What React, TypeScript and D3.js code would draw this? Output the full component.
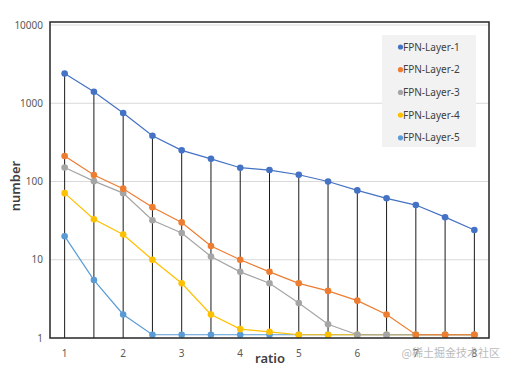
import React, { useEffect, useRef } from 'react';
import * as d3 from 'd3';

const ratios = [1, 1.5, 2, 2.5, 3, 3.5, 4, 4.5, 5, 5.5, 6, 6.5, 7, 7.5, 8];
const xTickLabels = [1, 2, 3, 4, 5, 6, 7, 8];
const yTickValues = [1, 10, 100, 1000, 10000];
const seriesNames = ['FPN-Layer-1', 'FPN-Layer-2', 'FPN-Layer-3', 'FPN-Layer-4', 'FPN-Layer-5'];
const seriesColors = ['#4472C4', '#ED7D31', '#A5A5A5', '#FFC000', '#5B9BD5'];

const layer1 = [2400, 1400, 750, 385, 250, 195, 150, 140, 122, 100, 77, 61, 50, 35, 24];
const layer2 = [212, 121, 81, 47, 30, 15, 10, 7, 5, 4, 3, 2, 1.1, 1.1, 1.1];
const layer3 = [151, 101, 71, 32, 22, 11, 7, 5, 2.8, 1.5, 1.1, 1.1, 1.1, 1.1, 1.1];
const layer4 = [71, 33, 21, 10, 5, 2, 1.3, 1.2, 1.1, 1.1, 1.1, 1.1, 1.1, 1.1, 1.1];
const layer5 = [20, 5.5, 2, 1.1, 1.1, 1.1, 1.1, 1.1, 1.1, 1.1, 1.1, 1.1, 1.1, 1.1, 1.1];
const allSeries = [layer1, layer2, layer3, layer4, layer5];

const App: React.FC = () => {
  const chartRef = useRef<SVGSVGElement>(null);

  useEffect(() => {
    const svg = d3.select(chartRef.current);
    svg.selectAll('*').remove();
    const width = 508;
    const height = 370;
    const plot = { left: 50, right: 489, top: 22, bottom: 338 };
    const font = '"Noto Sans", sans-serif';

    svg.attr('width', width).attr('height', height);
    svg.append('rect').attr('width', width).attr('height', height).attr('fill', '#fff');

    const x = d3
      .scalePoint<number>()
      .domain(ratios)
      .range([plot.left, plot.right])
      .padding(0.5);
    const y = d3.scaleLog().domain([1, 10000]).range([plot.bottom, 25]);

    // gridlines
    svg
      .append('g')
      .selectAll('line')
      .data(yTickValues.slice(1))
      .join('line')
      .attr('x1', plot.left)
      .attr('x2', plot.right)
      .attr('y1', (d) => y(d))
      .attr('y2', (d) => y(d))
      .attr('stroke', '#d9d9d9')
      .attr('stroke-width', 1);

    // legend background
    const legend = svg.append('g').attr('transform', 'translate(382,35)');
    legend.append('rect').attr('width', 94).attr('height', 112).attr('fill', '#f2f2f2');

    // drop lines from top series
    svg
      .append('g')
      .selectAll('line')
      .data(ratios)
      .join('line')
      .attr('x1', (d) => x(d)!)
      .attr('x2', (d) => x(d)!)
      .attr('y1', (d, i) => y(layer1[i]))
      .attr('y2', plot.bottom)
      .attr('stroke', '#1a1a1a')
      .attr('stroke-width', 1);

    const line = d3
      .line<number>()
      .x((d, i) => x(ratios[i])!)
      .y((d) => y(d));

    allSeries.slice().reverse().forEach((s, ri) => {
      const idx = allSeries.length - 1 - ri;
      const g = svg.append('g');
      g.append('path')
        .attr('d', line(s))
        .attr('fill', 'none')
        .attr('stroke', seriesColors[idx])
        .attr('stroke-width', 1.2);
      g.selectAll('circle')
        .data(s)
        .join('circle')
        .attr('cx', (d, i) => x(ratios[i])!)
        .attr('cy', (d) => y(d))
        .attr('r', 3.3)
        .attr('fill', seriesColors[idx]);
    });

    // frame
    svg
      .append('rect')
      .attr('x', plot.left)
      .attr('y', plot.top)
      .attr('width', plot.right - plot.left)
      .attr('height', plot.bottom - plot.top)
      .attr('fill', 'none')
      .attr('stroke', '#262626')
      .attr('stroke-width', 1.5);

    // y tick labels
    svg
      .append('g')
      .selectAll('text')
      .data(yTickValues)
      .join('text')
      .attr('x', 43)
      .attr('y', (d) => y(d) + 3.5)
      .attr('text-anchor', 'end')
      .attr('font-family', font)
      .attr('font-size', 10)
      .attr('fill', '#595959')
      .text((d) => d);

    // x tick labels
    svg
      .append('g')
      .selectAll('text')
      .data(xTickLabels)
      .join('text')
      .attr('x', (d) => x(d)!)
      .attr('y', 357)
      .attr('text-anchor', 'middle')
      .attr('font-family', font)
      .attr('font-size', 10)
      .attr('fill', '#595959')
      .text((d) => d);

    // axis titles
    svg
      .append('text')
      .attr('x', 270)
      .attr('y', 363)
      .attr('text-anchor', 'middle')
      .attr('font-family', font)
      .attr('font-size', 13)
      .attr('font-weight', 600)
      .attr('fill', '#404040')
      .text('ratio');
    svg
      .append('text')
      .attr('transform', 'translate(20,186) rotate(-90)')
      .attr('text-anchor', 'middle')
      .attr('font-family', font)
      .attr('font-size', 13)
      .attr('font-weight', 600)
      .attr('fill', '#404040')
      .text('number');

    // legend items
    const item = legend
      .selectAll('g')
      .data(seriesNames)
      .join('g')
      .attr('transform', (d, i) => `translate(0,${12 + i * 22.7})`);
    item
      .append('circle')
      .attr('cx', 18.5)
      .attr('cy', 0)
      .attr('r', 2.6)
      .attr('fill', (d, i) => seriesColors[i]);
    item
      .append('text')
      .attr('x', 21)
      .attr('y', 3.5)
      .attr('font-family', font)
      .attr('font-size', 10)
      .attr('fill', '#404040')
      .text((d) => d);

    // watermark
    svg
      .append('text')
      .attr('x', 500)
      .attr('y', 357)
      .attr('text-anchor', 'end')
      .attr('font-family', '"Noto Sans CJK SC", sans-serif')
      .attr('font-size', 11)
      .attr('fill', '#b0b0b0')
      .attr('opacity', 0.85)
      .text('@稀土掘金技术社区');
  }, []);

  return (
    <div style={{ position: 'absolute', left: 0, top: 0 }}>
      <svg ref={chartRef}></svg>
    </div>
  );
};

export default App;
